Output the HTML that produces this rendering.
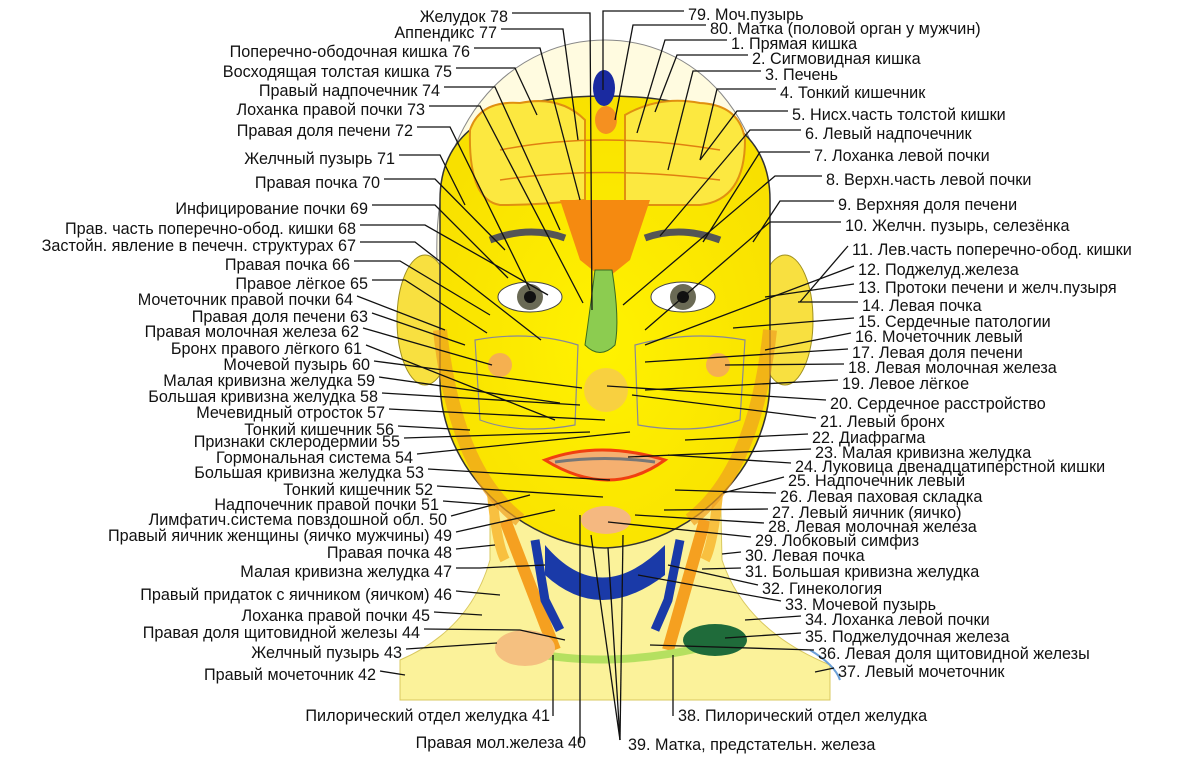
<!DOCTYPE html>
<html><head><meta charset="utf-8"><style>
html,body{margin:0;padding:0;background:#fff}
svg{display:block}
text{font-family:"Liberation Sans",sans-serif;font-size:16.2px;fill:#111}
.l{text-anchor:end}
</style></head><body>
<svg width="1200" height="771" viewBox="0 0 1200 771" xmlns="http://www.w3.org/2000/svg">
<defs>
<radialGradient id="fg" cx="50%" cy="55%" r="60%"><stop offset="0" stop-color="#fff200"/><stop offset="1" stop-color="#f8e000"/></radialGradient>
</defs>
<path d="M400,700 L400,660 Q470,630 490,560 L490,470 L720,470 L722,560 Q745,630 830,665 L830,700 Z" fill="#fbf29a" stroke="#d9c860" stroke-width="1"/>
<path d="M810,650 Q835,665 840,680" stroke="#6aa0d8" stroke-width="2" fill="none"/>
<path d="M505,520 L555,650" stroke="#f5a020" stroke-width="12" fill="none"/>
<path d="M705,520 L668,650" stroke="#f5a020" stroke-width="12" fill="none"/>
<path d="M490,470 Q495,540 505,560" stroke="#f8c040" stroke-width="10" fill="none"/>
<path d="M720,470 Q715,540 705,560" stroke="#f8c040" stroke-width="10" fill="none"/>
<path d="M545,545 Q600,610 665,545 L665,575 Q600,625 545,575 Z" fill="#1a3aa8"/>
<path d="M535,540 L545,600 L560,630" stroke="#1a3aa8" stroke-width="9" fill="none"/>
<path d="M680,540 L668,600 L655,630" stroke="#1a3aa8" stroke-width="9" fill="none"/>
<path d="M520,650 Q600,670 700,648" stroke="#b5e060" stroke-width="8" fill="none"/>
<ellipse cx="525" cy="648" rx="30" ry="18" fill="#f5c080"/>
<ellipse cx="715" cy="640" rx="32" ry="16" fill="#1f6b3a"/>
<path d="M437,260 C432,110 520,40 605,40 C690,40 775,110 770,260 Z" fill="#fffbe0" stroke="#888" stroke-width="1"/>
<ellipse cx="425" cy="320" rx="28" ry="65" fill="#f8e040" stroke="#a09020"/>
<ellipse cx="785" cy="320" rx="28" ry="65" fill="#f8e040" stroke="#a09020"/>
<path d="M445,275 L470,290 L460,340 L445,320 Z" fill="#e82010"/>
<path d="M765,275 L740,290 L750,340 L765,320 Z" fill="#e82010"/>
<path d="M440,200 C440,140 480,96 605,96 C730,96 770,140 770,200 L770,380 C770,470 690,545 605,548 C520,545 440,470 440,380 Z" fill="url(#fg)" stroke="#333" stroke-width="1.5"/>
<path d="M440,330 Q455,470 520,520 M770,330 Q755,470 690,520" stroke="#f0a020" stroke-width="14" fill="none" opacity=".7"/>
<path d="M470,130 Q480,100 520,103 Q560,95 585,120 L585,200 Q540,205 500,205 Q468,200 470,130 Z" fill="#fce840" stroke="#e09010" stroke-width="2"/>
<path d="M625,115 Q660,95 700,103 Q740,105 745,140 Q745,200 700,205 L625,205 Z" fill="#fce840" stroke="#e09010" stroke-width="2"/>
<path d="M500,150 Q600,130 720,150 M500,180 Q600,165 720,180" stroke="#e08010" stroke-width="1.5" fill="none"/>
<path d="M560,200 L650,200 L630,260 L605,280 L580,260 Z" fill="#f58a10"/>
<ellipse cx="604" cy="88" rx="11" ry="18" fill="#1a2aa0"/>
<ellipse cx="606" cy="120" rx="11" ry="14" fill="#f59020"/>
<path d="M490,240 Q530,225 565,238" stroke="#555" stroke-width="7" fill="none"/>
<path d="M645,238 Q680,225 720,240" stroke="#555" stroke-width="7" fill="none"/>
<ellipse cx="530" cy="297" rx="32" ry="15" fill="#fff" stroke="#444"/>
<circle cx="530" cy="297" r="13" fill="#6a6a55"/><circle cx="530" cy="297" r="6" fill="#111"/>
<ellipse cx="683" cy="297" rx="32" ry="15" fill="#fff" stroke="#444"/>
<circle cx="683" cy="297" r="13" fill="#6a6a55"/><circle cx="683" cy="297" r="6" fill="#111"/>
<path d="M595,270 Q590,310 585,345 Q600,360 615,345 Q620,320 612,270 Z" fill="#8ccc50" stroke="#3a6a20"/>
<ellipse cx="606" cy="390" rx="22" ry="22" fill="#f8d040"/>
<path d="M475,340 Q530,330 578,345 L575,425 Q520,435 480,420 Z" fill="none" stroke="#889" stroke-width="1.2"/>
<path d="M635,345 Q690,330 745,340 L740,420 Q695,435 638,425 Z" fill="none" stroke="#889" stroke-width="1.2"/>
<circle cx="500" cy="365" r="12" fill="#f5b050"/><circle cx="718" cy="365" r="12" fill="#f5b050"/>
<path d="M545,460 Q600,440 665,460 Q610,500 545,460 Z" fill="#f5b070" stroke="#f04010" stroke-width="3"/>
<path d="M555,462 Q605,455 655,462" stroke="#777" stroke-width="3" fill="none"/>
<ellipse cx="606" cy="520" rx="25" ry="14" fill="#f5b880"/>

<g stroke="#111" stroke-width="1.3" fill="none">
<polyline points="512,13 590,13 592,310"/>
<polyline points="501,29 563,29 578,140"/>
<polyline points="474,48 540,48 580,200"/>
<polyline points="456,68 515,68 537,115"/>
<polyline points="444,87 495,87 560,230"/>
<polyline points="429,106 480,106 583,303"/>
<polyline points="417,127 450,127 530,290"/>
<polyline points="399,155 440,155 465,205"/>
<polyline points="384,179 435,179 505,250"/>
<polyline points="372,205 435,205 508,278"/>
<polyline points="360,225 425,225 548,295"/>
<polyline points="360,242 415,242 541,340"/>
<polyline points="354,261 400,261 490,315"/>
<polyline points="372,280 405,280 487,333"/>
<line x1="357" y1="296" x2="445" y2="330"/>
<line x1="372" y1="313" x2="465" y2="345"/>
<line x1="363" y1="328" x2="492" y2="365"/>
<line x1="366" y1="345" x2="555" y2="420"/>
<line x1="374" y1="361" x2="582" y2="388"/>
<line x1="379" y1="377" x2="560" y2="403"/>
<line x1="382" y1="393" x2="580" y2="405"/>
<line x1="389" y1="409" x2="605" y2="420"/>
<line x1="398" y1="426" x2="470" y2="430"/>
<line x1="404" y1="438" x2="590" y2="432"/>
<line x1="417" y1="454" x2="630" y2="432"/>
<line x1="428" y1="469" x2="610" y2="480"/>
<line x1="437" y1="486" x2="603" y2="497"/>
<line x1="443" y1="501" x2="495" y2="505"/>
<line x1="451" y1="516" x2="530" y2="495"/>
<line x1="456" y1="532" x2="555" y2="510"/>
<line x1="456" y1="549" x2="495" y2="545"/>
<polyline points="456,568 480,568 545,565"/>
<line x1="456" y1="591" x2="500" y2="595"/>
<line x1="434" y1="612" x2="482" y2="615"/>
<polyline points="424,629 520,630 565,640"/>
<line x1="406" y1="649" x2="497" y2="643"/>
<line x1="380" y1="671" x2="405" y2="675"/>
<line x1="553" y1="655" x2="553" y2="716"/>
<line x1="580" y1="515" x2="580" y2="743"/>
<line x1="591" y1="535" x2="620" y2="740"/>
<line x1="608" y1="548" x2="620" y2="740"/>
<line x1="623" y1="535" x2="620" y2="740"/>
<line x1="673" y1="655" x2="673" y2="716"/>

<polyline points="684,11 603,11 603,90"/>
<polyline points="706,25 633,25 615,120"/>
<polyline points="727,40 665,40 637,133"/>
<polyline points="748,55 677,55 655,112"/>
<polyline points="761,71 693,71 668,170"/>
<polyline points="776,89 717,89 700,160"/>
<polyline points="788,111 737,111 700,160"/>
<polyline points="801,130 750,130 660,236"/>
<polyline points="810,152 760,152 703,242"/>
<polyline points="822,176 775,176 623,305"/>
<polyline points="834,201 780,201 753,242"/>
<polyline points="841,222 770,222 645,330"/>
<line x1="848" y1="246" x2="800" y2="302"/>
<line x1="854" y1="266" x2="645" y2="345"/>
<line x1="854" y1="284" x2="765" y2="297"/>
<line x1="858" y1="302" x2="798" y2="302"/>
<line x1="854" y1="318" x2="733" y2="328"/>
<line x1="851" y1="333" x2="765" y2="350"/>
<line x1="848" y1="349" x2="645" y2="362"/>
<line x1="844" y1="364" x2="725" y2="365"/>
<line x1="838" y1="380" x2="645" y2="390"/>
<line x1="826" y1="400" x2="607" y2="386"/>
<line x1="816" y1="418" x2="632" y2="395"/>
<line x1="808" y1="434" x2="685" y2="440"/>
<line x1="811" y1="449" x2="628" y2="457"/>
<line x1="791" y1="463" x2="668" y2="455"/>
<line x1="784" y1="477" x2="723" y2="493"/>
<line x1="776" y1="493" x2="675" y2="490"/>
<line x1="768" y1="509" x2="664" y2="510"/>
<line x1="764" y1="523" x2="635" y2="515"/>
<line x1="751" y1="537" x2="608" y2="522"/>
<line x1="741" y1="552" x2="722" y2="554"/>
<line x1="741" y1="568" x2="702" y2="569"/>
<line x1="758" y1="585" x2="668" y2="565"/>
<line x1="781" y1="601" x2="638" y2="575"/>
<line x1="801" y1="616" x2="745" y2="620"/>
<line x1="801" y1="633" x2="725" y2="638"/>
<line x1="814" y1="650" x2="650" y2="645"/>
<line x1="834" y1="668" x2="815" y2="672"/>
</g>

<text class="l" x="508" y="22">Желудок 78</text>
<text class="l" x="497" y="38">Аппендикс 77</text>
<text class="l" x="470" y="57">Поперечно-ободочная кишка 76</text>
<text class="l" x="452" y="77">Восходящая толстая кишка 75</text>
<text class="l" x="440" y="96">Правый надпочечник 74</text>
<text class="l" x="425" y="115">Лоханка правой почки 73</text>
<text class="l" x="413" y="136">Правая доля печени 72</text>
<text class="l" x="395" y="164">Желчный пузырь 71</text>
<text class="l" x="380" y="188">Правая почка 70</text>
<text class="l" x="368" y="214">Инфицирование почки 69</text>
<text class="l" x="356" y="234">Прав. часть поперечно-обод. кишки 68</text>
<text class="l" x="356" y="251">Застойн. явление в печечн. структурах 67</text>
<text class="l" x="350" y="270">Правая почка 66</text>
<text class="l" x="368" y="289">Правое лёгкое 65</text>
<text class="l" x="353" y="305">Мочеточник правой почки 64</text>
<text class="l" x="368" y="322">Правая доля печени 63</text>
<text class="l" x="359" y="337">Правая молочная железа 62</text>
<text class="l" x="362" y="354">Бронх правого лёгкого 61</text>
<text class="l" x="370" y="370">Мочевой пузырь 60</text>
<text class="l" x="375" y="386">Малая кривизна желудка 59</text>
<text class="l" x="378" y="402">Большая кривизна желудка 58</text>
<text class="l" x="385" y="418">Мечевидный отросток 57</text>
<text class="l" x="394" y="435">Тонкий кишечник 56</text>
<text class="l" x="400" y="447">Признаки склеродермии 55</text>
<text class="l" x="413" y="463">Гормональная система 54</text>
<text class="l" x="424" y="478">Большая кривизна желудка 53</text>
<text class="l" x="433" y="495">Тонкий кишечник 52</text>
<text class="l" x="439" y="510">Надпочечник правой почки 51</text>
<text class="l" x="447" y="525">Лимфатич.система повздошной обл. 50</text>
<text class="l" x="452" y="541">Правый яичник женщины (яичко мужчины) 49</text>
<text class="l" x="452" y="558">Правая почка 48</text>
<text class="l" x="452" y="577">Малая кривизна желудка 47</text>
<text class="l" x="452" y="600">Правый придаток с яичником  (яичком) 46</text>
<text class="l" x="430" y="621">Лоханка правой почки 45</text>
<text class="l" x="420" y="638">Правая доля щитовидной железы 44</text>
<text class="l" x="402" y="658">Желчный пузырь 43</text>
<text class="l" x="376" y="680">Правый мочеточник 42</text>
<text class="l" x="550" y="721">Пилорический отдел желудка 41</text>
<text class="l" x="586" y="748">Правая мол.железа 40</text>

<text x="688" y="20">79. Моч.пузырь</text>
<text x="710" y="34">80. Матка (половой орган у мужчин)</text>
<text x="731" y="49">1. Прямая кишка</text>
<text x="752" y="64">2. Сигмовидная кишка</text>
<text x="765" y="80">3. Печень</text>
<text x="780" y="98">4. Тонкий кишечник</text>
<text x="792" y="120">5. Нисх.часть толстой кишки</text>
<text x="805" y="139">6. Левый надпочечник</text>
<text x="814" y="161">7. Лоханка левой почки</text>
<text x="826" y="185">8. Верхн.часть левой почки</text>
<text x="838" y="210">9. Верхняя доля печени</text>
<text x="845" y="231">10. Желчн. пузырь, селезёнка</text>
<text x="852" y="255">11. Лев.часть поперечно-обод. кишки</text>
<text x="858" y="275">12. Поджелуд.железа</text>
<text x="858" y="293">13. Протоки печени и желч.пузыря</text>
<text x="862" y="311">14. Левая почка</text>
<text x="858" y="327">15. Сердечные патологии</text>
<text x="855" y="342">16. Мочеточник левый</text>
<text x="852" y="358">17. Левая доля печени</text>
<text x="848" y="373">18. Левая молочная железа</text>
<text x="842" y="389">19. Левое лёгкое</text>
<text x="830" y="409">20. Сердечное расстройство</text>
<text x="820" y="427">21. Левый бронх</text>
<text x="812" y="443">22. Диафрагма</text>
<text x="815" y="458">23. Малая кривизна желудка</text>
<text x="795" y="472">24. Луковица двенадцатиперстной кишки</text>
<text x="788" y="486">25. Надпочечник левый</text>
<text x="780" y="502">26. Левая паховая складка</text>
<text x="772" y="518">27. Левый яичник (яичко)</text>
<text x="768" y="532">28. Левая молочная железа</text>
<text x="755" y="546">29. Лобковый симфиз</text>
<text x="745" y="561">30. Левая почка</text>
<text x="745" y="577">31. Большая кривизна желудка</text>
<text x="762" y="594">32. Гинекология</text>
<text x="785" y="610">33. Мочевой пузырь</text>
<text x="805" y="625">34. Лоханка левой почки</text>
<text x="805" y="642">35. Поджелудочная железа</text>
<text x="818" y="659">36. Левая доля щитовидной железы</text>
<text x="838" y="677">37. Левый мочеточник</text>
<text x="678" y="721">38. Пилорический отдел желудка</text>
<text x="628" y="750">39. Матка, предстательн. железа</text>
</svg>
</body></html>
